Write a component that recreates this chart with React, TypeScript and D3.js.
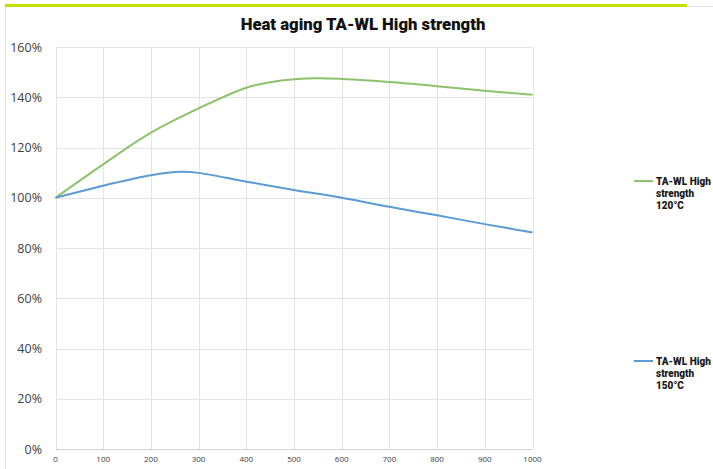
import React from "react";
import * as d3 from "d3";

const W = 713;
const H = 469;

const title = "Heat aging TA-WL High strength";
const yTicks = [0, 20, 40, 60, 80, 100, 120, 140, 160];
const xTicks = [0, 100, 200, 300, 400, 500, 600, 700, 800, 900, 1000];

const greenX = [0, 100, 200, 300, 400, 450, 500, 550, 600, 700, 800, 900, 1000];
const greenY = [100, 113.3, 125.9, 135.6, 143.8, 146.0, 147.2, 147.6, 147.3, 146.1, 144.4, 142.6, 141.0];

const blueX = [0, 100, 200, 265, 300, 400, 500, 600, 700, 800, 900, 1000];
const blueY = [100, 104.8, 109.0, 110.3, 109.9, 106.4, 103.1, 100.0, 96.4, 93.0, 89.5, 86.2];

const seriesNames = ["TA-WL High|strength|120°C", "TA-WL High|strength|150°C"];
const seriesColors = ["#8cc36a", "#5b9bd5"];

export default function App() {
  const left = 55.5;
  const right = 532.5;
  const top = 47;
  const bottom = 449;
  const x = d3.scaleLinear().domain([0, 1000]).range([left, right]);
  const y = d3.scaleLinear().domain([0, 160]).range([bottom, top]);

  const line = d3
    .line<[number, number]>()
    .x((d) => x(d[0]))
    .y((d) => y(d[1]))
    .curve(d3.curveCatmullRom.alpha(0.5));

  const gData = greenX.map((v, i) => [v, greenY[i]] as [number, number]);
  const bData = blueX.map((v, i) => [v, blueY[i]] as [number, number]);

  const legendY = [181, 361];

  return (
    <svg
      width={W}
      height={H}
      style={{ position: "absolute", left: 0, top: 0, background: "#fff" }}
    >
      <rect x={0} y={0} width={W} height={H} fill="#fff" />
      {/* frame */}
      <line x1={5.5} x2={5.5} y1={7} y2={H} stroke="#e3e3e3" strokeWidth={1} />
      <line x1={686} x2={W} y1={6.5} y2={6.5} stroke="#e3e3e3" strokeWidth={1} />
      <rect x={5} y={4} width={682} height={3} fill="#c6de00" />

      <text
        x={363}
        y={30}
        textAnchor="middle"
        fontFamily="Roboto, 'Open Sans', sans-serif"
        fontWeight={900}
        fontSize={16.7}
        fill="#111"
      >
        {title}
      </text>

      {/* grid */}
      {yTicks.map((t) => (
        <line
          key={"gy" + t}
          x1={left}
          x2={right}
          y1={Math.round(y(t)) + 0.5}
          y2={Math.round(y(t)) + 0.5}
          stroke={t === 0 ? "#d0d0d0" : "#e4e4e4"}
          strokeWidth={1}
        />
      ))}
      {xTicks.map((t) => (
        <line
          key={"gx" + t}
          x1={Math.round(x(t)) + 0.5}
          x2={Math.round(x(t)) + 0.5}
          y1={top}
          y2={bottom}
          stroke="#e4e4e4"
          strokeWidth={1}
        />
      ))}

      {/* y labels */}
      {yTicks.map((t) => (
        <text
          key={"ly" + t}
          x={42}
          y={y(t) + 4.5}
          textAnchor="end"
          fontFamily="'Open Sans', sans-serif"
          fontSize={12.5}
          fill="#404040"
        >
          {t + "%"}
        </text>
      ))}
      {/* x labels */}
      {xTicks.map((t) => (
        <text
          key={"lx" + t}
          x={x(t)}
          y={462}
          textAnchor="middle"
          fontFamily="'Open Sans', sans-serif"
          fontSize={8}
          fill="#404040"
        >
          {t}
        </text>
      ))}

      <path d={line(gData) || ""} fill="none" stroke={seriesColors[0]} strokeWidth={2} />
      <path d={line(bData) || ""} fill="none" stroke={seriesColors[1]} strokeWidth={2} />

      {/* legend */}
      {seriesNames.map((name, i) => (
        <g key={"lg" + i}>
          <line
            x1={634}
            x2={653}
            y1={legendY[i]}
            y2={legendY[i]}
            stroke={seriesColors[i]}
            strokeWidth={2}
          />
          {name.split("|").map((ln, j) => (
            <text
              key={j}
              x={656}
              y={legendY[i] + 4 + j * 12}
              fontFamily="Roboto, sans-serif"
              fontWeight={900}
              fontSize={10}
              fill="#1a1a1a"
            >
              {ln}
            </text>
          ))}
        </g>
      ))}
    </svg>
  );
}
